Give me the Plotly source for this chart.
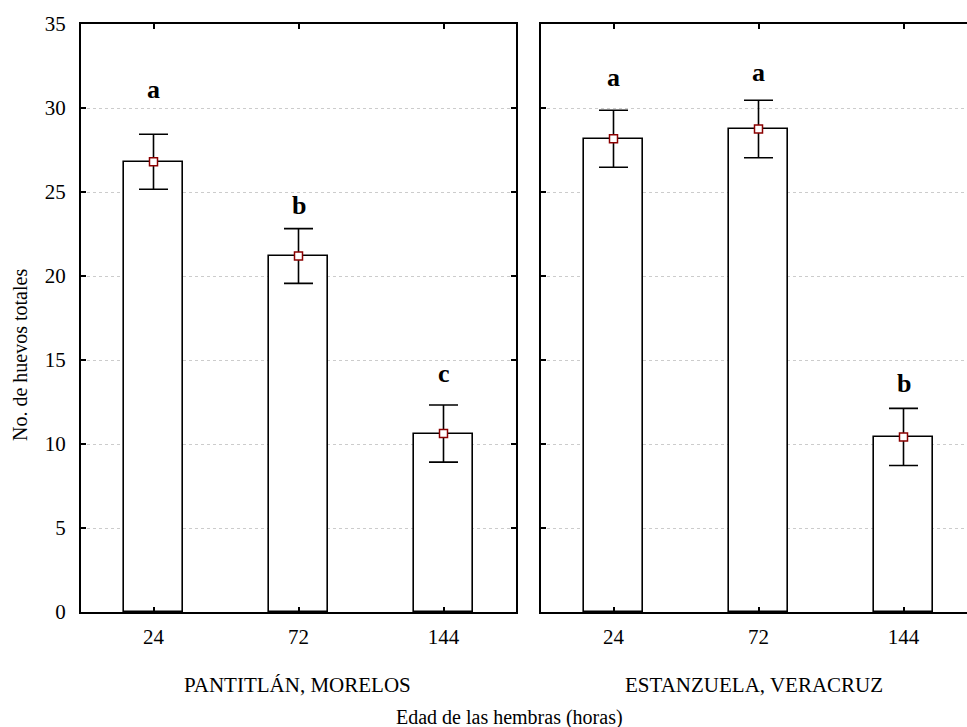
import plotly.graph_objects as go

# ---- data ----
ages = ["24", "72", "144"]
sites = ["PANTITLÁN, MORELOS", "ESTANZUELA, VERACRUZ"]
mean_pantitlan = [26.8, 21.19, 10.62]
err_pantitlan = [1.64, 1.63, 1.70]
mean_estanzuela = [28.17, 28.75, 10.42]
err_estanzuela = [1.70, 1.71, 1.70]
letters_pantitlan = ["a", "b", "c"]
letters_y_pantitlan = [31.1, 24.2, 14.2]
letters_estanzuela = ["a", "a", "b"]
letters_y_estanzuela = [31.8, 32.1, 13.6]
y_title = "No. de huevos totales"
x_title = "Edad de las hembras (horas)"

FONT = "Liberation Serif, Times New Roman, serif"
W, H = 967, 727
ML, MR, MT, MB = 81, 0, 24, 115
PW = W - ML - MR
PH = H - MT - MB

def px_x(p):
    return (p - ML) / PW

def px_y(p):
    return (H - MB - p) / PH

xpos = list(range(len(ages)))

fig = go.Figure()
panels = [
    (mean_pantitlan, err_pantitlan, letters_pantitlan, letters_y_pantitlan, "x", "y"),
    (mean_estanzuela, err_estanzuela, letters_estanzuela, letters_y_estanzuela, "x2", "y2"),
]
for means, errs, letters, ly, xa, ya in panels:
    fig.add_trace(go.Bar(
        x=xpos, y=means, width=0.407, xaxis=xa, yaxis=ya,
        marker=dict(color="white", line=dict(color="black", width=1.6)),
        showlegend=False, hoverinfo="skip",
    ))
    fig.add_trace(go.Scatter(
        x=xpos, y=means, mode="markers", xaxis=xa, yaxis=ya,
        error_y=dict(type="data", array=errs, visible=True, color="black",
                     thickness=1.6, width=14.5),
        marker=dict(symbol="square", size=8, color="white",
                    line=dict(color="#8b0000", width=1.5)),
        showlegend=False,
    ))
    for xi, t, yv in zip(xpos, letters, ly):
        fig.add_annotation(x=xi, y=yv, xref=xa, yref=ya, text="<b>%s</b>" % t,
                           showarrow=False, xanchor="center", yanchor="middle",
                           font=dict(family=FONT, size=26, color="black"))

axis_common = dict(showline=True, linecolor="black", linewidth=2,
                   ticks="inside", ticklen=5, tickwidth=1.5, tickcolor="black",
                   zeroline=False,
                   tickfont=dict(family=FONT, size=21, color="black"))

fig.update_layout(
    width=W, height=H,
    margin=dict(l=ML, r=MR, t=MT, b=MB),
    plot_bgcolor="white", paper_bgcolor="white",
    font=dict(family=FONT, color="black"),
    bargap=0,
    xaxis=dict(domain=[0, px_x(516)], range=[-0.5, 2.5], anchor="y",
               tickvals=xpos, ticktext=ages, mirror="allticks", showgrid=False,
               ticklabelstandoff=5, **axis_common),
    xaxis2=dict(domain=[px_x(541), 1], range=[-0.5, -0.5 + (967 - 541) / 145.0],
                anchor="y2", tickvals=xpos, ticktext=ages, mirror="allticks",
                showgrid=False, ticklabelstandoff=5, **axis_common),
    yaxis=dict(range=[0, 35], dtick=5, anchor="x", mirror="allticks",
               showgrid=True, gridcolor="#cccccc", griddash="dot", gridwidth=1,
               ticklabelstandoff=9, **axis_common),
    yaxis2=dict(range=[0, 35], dtick=5, anchor="x2", showticklabels=False,
                showgrid=True, gridcolor="#cccccc", griddash="dot", gridwidth=1,
                **axis_common),
)

# panel labels and axis titles
for txt, xp in zip(sites, [297, 754]):
    fig.add_annotation(x=px_x(xp), y=-(685 - 612) / PH, xref="paper", yref="paper",
                       text=txt, showarrow=False, xanchor="center", yanchor="middle",
                       font=dict(family=FONT, size=21, color="black"))
fig.add_annotation(x=px_x(509), y=-(717 - 612) / PH, xref="paper", yref="paper",
                   text=x_title, showarrow=False, xanchor="center", yanchor="middle",
                   font=dict(family=FONT, size=20, color="black"))
fig.add_annotation(x=px_x(20), y=px_y(355), xref="paper", yref="paper",
                   text=y_title, showarrow=False, textangle=-90,
                   xanchor="center", yanchor="middle",
                   font=dict(family=FONT, size=20, color="black"))

fig.write_html("out.html")
